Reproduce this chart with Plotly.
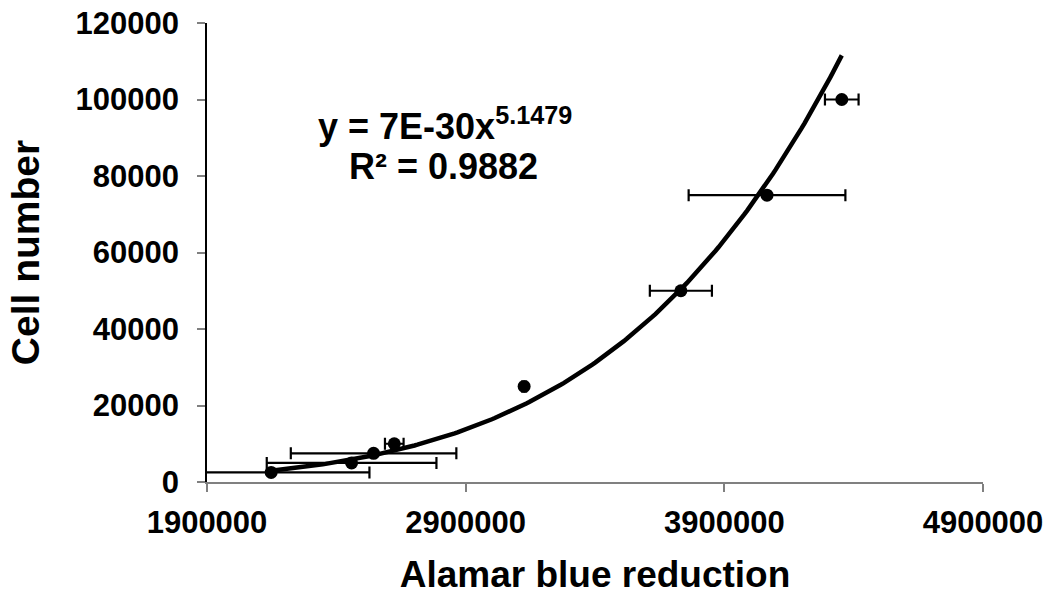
import numpy as np
import plotly.graph_objects as go

# Data
alamar = [2148000, 2459000, 2544000, 2624000, 3126000, 3732000, 4065000, 4354000]
cells = [2500, 5000, 7500, 10000, 25000, 50000, 75000, 100000]
alamar_err = [380000, 328000, 320000, 36000, 8000, 120000, 303000, 65000]

x_ticks = [1900000, 2900000, 3900000, 4900000]
y_ticks = [0, 20000, 40000, 60000, 80000, 100000, 120000]

eq_text = "y = 7E-30x<sup>5.1479</sup>"
r2_text = "R² = 0.9882"

# Power trendline fitted in log-log space (as the spreadsheet does)
b, lna = np.polyfit(np.log(alamar), np.log(cells), 1)
xf = np.linspace(min(alamar), max(alamar), 200)
yf = np.exp(lna) * xf ** b

FONT = "Liberation Sans, Arial, sans-serif"
L, R, T, B = 207, 65, 23, 113
W, H = 1048, 595
pw, ph = W - L - R, H - T - B


def px_to_paper(xp, yp):
    return (xp - L) / pw, 1 - (yp - T) / ph


fig = go.Figure()
fig.add_trace(go.Scatter(
    x=alamar, y=cells, mode="markers",
    marker=dict(color="black", size=13),
    error_x=dict(type="data", array=alamar_err, visible=True,
                 color="black", thickness=2.2, width=6),
    showlegend=False,
))
fig.add_trace(go.Scatter(
    x=xf, y=yf, mode="lines",
    line=dict(color="black", width=4.5),
    showlegend=False,
))

for txt, (xp, yp) in [(eq_text, (445, 124)), (r2_text, (443, 166))]:
    ax, ay = px_to_paper(xp, yp)
    fig.add_annotation(x=ax, y=ay, xref="paper", yref="paper", text="<b>" + txt + "</b>",
                       xanchor="center", yanchor="middle", showarrow=False,
                       font=dict(family=FONT, size=36, color="black"))

fig.update_layout(
    width=W, height=H,
    margin=dict(l=L, r=R, t=T, b=B, autoexpand=False),
    paper_bgcolor="white", plot_bgcolor="white",
    font=dict(family=FONT, color="black"),
    xaxis=dict(
        range=[1900000, 4900000], tickvals=x_ticks,
        ticktext=[str(v) for v in x_ticks],
        showgrid=False, zeroline=False, automargin=False,
        showline=True, linecolor="#808080", linewidth=1.5,
        ticks="outside", ticklen=8, tickcolor="#808080", tickwidth=1.5,
        tickfont=dict(family=FONT, size=31, color="black", weight="bold"),
        ticklabelstandoff=4,
        title=dict(text="<b>Alamar blue reduction</b>",
                   font=dict(family=FONT, size=37, color="black"), standoff=24),
    ),
    yaxis=dict(
        range=[0, 120000], tickvals=y_ticks,
        ticktext=[str(v) for v in y_ticks],
        showgrid=False, zeroline=False, automargin=False,
        showline=True, linecolor="black", linewidth=1.5,
        ticks="outside", ticklen=8, tickcolor="#808080", tickwidth=1.5,
        tickfont=dict(family=FONT, size=31, color="black", weight="bold"),
        ticklabelstandoff=12,
        title=dict(text="<b>Cell number</b>",
                   font=dict(family=FONT, size=39, color="black"), standoff=24),
    ),
)

fig.write_html("out.html")
